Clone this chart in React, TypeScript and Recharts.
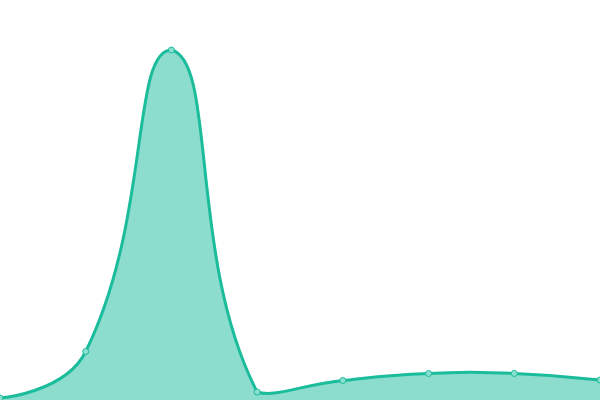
import { Area, AreaChart, XAxis, YAxis } from "recharts";

const WIDTH = 600;
const HEIGHT = 400;
const SMOOTH = 0.5;

const categories = ["A", "B", "C", "D", "E", "F", "G", "H"];
const values = [2, 48.5, 350, 8, 19.5, 26.5, 26.5, 20];

const data = categories.map((name, i) => ({ name, value: values[i] }));

// bezier smoothing that weighs control points by segment length,
// clamped to the bounding box of the points
function smoothCurve(context: any) {
  let xs: number[] = [];
  let ys: number[] = [];
  let line = NaN;
  return {
    areaStart() {
      line = 0;
    },
    areaEnd() {
      line = NaN;
    },
    lineStart() {
      xs = [];
      ys = [];
    },
    point(x: number, y: number) {
      xs.push(+x);
      ys.push(+y);
    },
    lineEnd() {
      const n = xs.length;
      if (n) {
        if (line) context.lineTo(xs[0], ys[0]);
        else context.moveTo(xs[0], ys[0]);
        const minX = Math.min(...xs);
        const maxX = Math.max(...xs);
        const minY = Math.min(...ys);
        const maxY = Math.max(...ys);
        const clampX = (v: number) => Math.min(maxX, Math.max(minX, v));
        const clampY = (v: number) => Math.min(maxY, Math.max(minY, v));
        let cp0x = xs[0];
        let cp0y = ys[0];
        for (let i = 1; i < n; i++) {
          const x = xs[i];
          const y = ys[i];
          let cp1x = x;
          let cp1y = y;
          let ratio = 0.5;
          let vx = 0;
          let vy = 0;
          if (i < n - 1) {
            vx = xs[i + 1] - xs[i - 1];
            vy = ys[i + 1] - ys[i - 1];
            const lenPrev = Math.hypot(x - xs[i - 1], y - ys[i - 1]);
            const lenNext = Math.hypot(xs[i + 1] - x, ys[i + 1] - y);
            ratio = lenPrev + lenNext ? lenNext / (lenNext + lenPrev) : 0.5;
            cp1x = x - vx * SMOOTH * (1 - ratio);
            cp1y = y - vy * SMOOTH * (1 - ratio);
          }
          context.bezierCurveTo(clampX(cp0x), clampY(cp0y), clampX(cp1x), clampY(cp1y), x, y);
          cp0x = x + vx * SMOOTH * ratio;
          cp0y = y + vy * SMOOTH * ratio;
        }
      }
      if (line || (line !== 0 && n === 1)) context.closePath();
      line = 1 - line;
    },
  };
}

export default function App() {
  return (
    <div style={{ position: "absolute", top: 0, left: 0, width: WIDTH, height: HEIGHT, background: "#fff" }}>
      <AreaChart width={WIDTH} height={HEIGHT} data={data} margin={{ top: 0, right: 0, bottom: 0, left: 0 }}>
        <XAxis dataKey="name" hide padding={{ left: 0, right: 0 }} />
        <YAxis hide domain={[0, 400]} />
        <Area
          type={smoothCurve as any}
          dataKey="value"
          stroke="#1abc9c"
          strokeWidth={3}
          fill="#1abc9c"
          fillOpacity={0.5}
          dot={{ r: 3, fill: "#8ce0d0", stroke: "#1abc9c", strokeWidth: 1, fillOpacity: 1 }}
          activeDot={false}
          isAnimationActive={false}
        />
      </AreaChart>
    </div>
  );
}
